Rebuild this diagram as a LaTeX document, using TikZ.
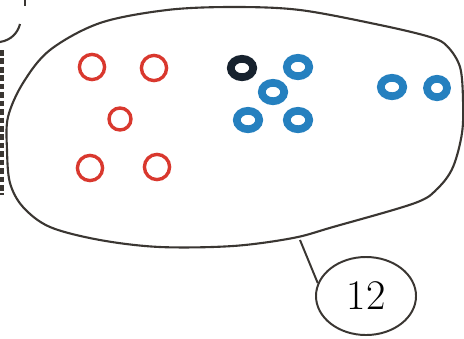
\documentclass[tikz,border=0pt]{standalone}
\usetikzlibrary{shapes.geometric}
\definecolor{conjRojo}{HTML}{D9382E}
\definecolor{conjAzul}{HTML}{2580BF}
\definecolor{conjOscuro}{HTML}{17222E}
\definecolor{conjTrazo}{HTML}{3A3632}
\tikzset{
  bolaRoja/.style={circle, draw=conjRojo, line width=2.4pt, minimum size=0.63cm,
    inner sep=0pt},
  bolaAzul/.style={ellipse, draw=conjAzul, line width=5.5pt, minimum width=0.56cm,
    minimum height=0.46cm, inner sep=0pt},
  bolaOscura/.style={bolaAzul, draw=conjOscuro},
  etiqueta/.style={ellipse, draw=conjTrazo, line width=1.4pt, minimum width=2.5cm,
    minimum height=1.95cm, inner sep=0pt, font=\fontsize{30}{32}\selectfont},
  contorno/.style={conjTrazo, line width=1.5pt},
  enlace/.style={-, line width=1.4pt, conjTrazo},
}

\begin{document}
\begin{tikzpicture}[x=0.025cm, y=-0.025cm]
    \useasboundingbox (0,0) rectangle (464,338);

    % restos del dibujo vecino
    \draw[contorno] (25,0) -- (25,6);
    \draw[contorno] (0,42) .. controls (12,40) and (18,32) .. (20,24);
    \draw[contorno, line width=3pt, dash pattern=on 4pt off 2pt] (2,50) -- (2,195);

    % contorno del conjunto
    \draw[contorno] plot[smooth cycle, tension=0.55] coordinates {
      (7,150) (8,117) (23,83) (50,50) (100,23) (167,10) (233,7) (300,10)
      (380,25) (430,37) (447,46) (460,67) (463,100) (462,133) (453,167)
      (438,188) (415,203) (333,227) (293,238) (233,246) (160,247) (100,240)
      (50,227) (23,207) (10,183)};
    \coordinate (borde) at (300,240);

    \node[bolaRoja] (r1) at (92,67)   {};
    \node[bolaRoja] (r2) at (154,68)  {};
    \node[bolaRoja, minimum size=0.55cm] (r3) at (120,119) {};
    \node[bolaRoja] (r4) at (90,168)  {};
    \node[bolaRoja] (r5) at (157,167) {};

    \node[bolaOscura] (a1) at (242,68)  {};
    \node[bolaAzul]   (a2) at (298,67)  {};
    \node[bolaAzul]   (a3) at (273,92)  {};
    \node[bolaAzul]   (a4) at (248,120) {};
    \node[bolaAzul]   (a5) at (298,120) {};
    \node[bolaAzul]   (a6) at (392,87)  {};
    \node[bolaAzul, minimum width=0.5cm] (a7) at (437,88) {};

    \node[etiqueta] (num) at (366,296) {12};

    \draw[enlace] (borde) -- (num.165);
  \end{tikzpicture}
\end{document}
